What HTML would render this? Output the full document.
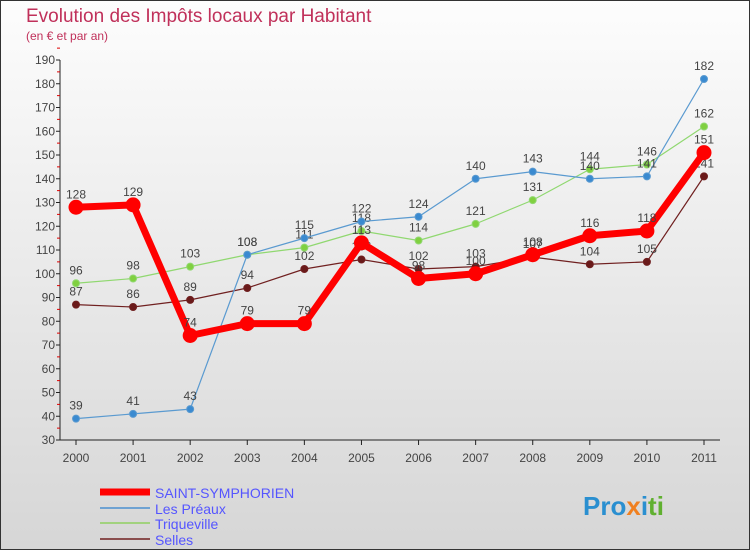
<!DOCTYPE html>
<html><head><meta charset="utf-8"><style>
body{margin:0;width:750px;height:550px;overflow:hidden;font-family:"Liberation Sans",sans-serif}
</style></head><body>
<svg width="750" height="550" xmlns="http://www.w3.org/2000/svg" id="svg">
<defs><linearGradient id="bg" x1="0" y1="0" x2="0" y2="1"><stop offset="0" stop-color="#fdfdfd"/><stop offset="1" stop-color="#d6d6d6"/></linearGradient></defs>
<rect x="0.5" y="0.5" width="749" height="549" fill="url(#bg)" stroke="#333"/>
<text x="26" y="22" font-size="19" fill="#c0305a">Evolution des Impôts locaux par Habitant</text>
<text x="26" y="40" font-size="12" fill="#c0305a">(en € et par an)</text>
<g id="axes"></g><g id="series"></g>
<g>
<line x1="100" y1="492" x2="150" y2="492" stroke="#f00" stroke-width="7"/><text x="155" y="498" font-size="14" fill="#55f">SAINT-SYMPHORIEN</text>
<line x1="100" y1="508" x2="150" y2="508" stroke="#4a90d0" stroke-width="1.5"/><text x="155" y="514" font-size="14" fill="#55f">Les Préaux</text>
<line x1="100" y1="523" x2="150" y2="523" stroke="#8fd060" stroke-width="1.5"/><text x="155" y="529" font-size="14" fill="#55f">Triqueville</text>
<line x1="100" y1="539" x2="150" y2="539" stroke="#702020" stroke-width="1.5"/><text x="155" y="545" font-size="14" fill="#55f">Selles</text>
</g>
<text x="583" y="515" font-size="26" font-weight="bold" fill="#2a8fd0">Pro<tspan fill="#f08020">x</tspan>i<tspan fill="#60b030">ti</tspan></text>
</svg>
<script>
const years=[2000,2001,2002,2003,2004,2005,2006,2007,2008,2009,2010,2011];
const saint=[128,129,74,79,79,113,98,100,108,116,118,151];
const preaux=[39,41,43,108,115,122,124,140,143,140,141,182];
const trique=[96,98,103,108,111,118,114,121,131,144,146,162];
const selles=[87,86,89,94,102,106,102,103,107,104,105,141];
const yTicks=[30,40,50,60,70,80,90,100,110,120,130,140,150,160,170,180,190];
const NS="http://www.w3.org/2000/svg";
const X=i=>76+i*(704-76)/(years.length-1);
const Y=v=>440-(v-30)*380/160;
function mk(t,a,p){const e=document.createElementNS(NS,t);for(const k in a)e.setAttribute(k,a[k]);p.appendChild(e);return e;}
const ax=document.getElementById('axes'),sg=document.getElementById('series');
mk('line',{x1:60,y1:60,x2:60,y2:440,stroke:'#222'},ax);
mk('line',{x1:60,y1:440,x2:720,y2:440,stroke:'#222'},ax);
yTicks.forEach(v=>{mk('line',{x1:56,y1:Y(v),x2:60,y2:Y(v),stroke:'#222'},ax);
 mk('line',{x1:57,y1:Y(v+5),x2:60,y2:Y(v+5),stroke:'#d00'},ax);
 const t=mk('text',{x:55,y:Y(v)+4,'font-size':12,fill:'#444','text-anchor':'end'},ax);t.textContent=v;
 });
years.forEach((y,i)=>{mk('line',{x1:X(i),y1:440,x2:X(i),y2:445,stroke:'#222'},ax);
 const t=mk('text',{x:X(i),y:462,'font-size':12,fill:'#444','text-anchor':'middle'},ax);t.textContent=y;
 });
function series(d,name,col,w,r,dot){const g=mk('g',{},sg);
 
 mk('polyline',{points:d.map((v,i)=>X(i)+','+Y(v)).join(' '),fill:'none',stroke:col,'stroke-width':w,'stroke-linejoin':'round'},g);
 d.forEach((v,i)=>{mk('circle',{cx:X(i),cy:Y(v),r:r,fill:dot,stroke:col},g);
  const t=mk('text',{x:X(i),y:Y(v)-9,'font-size':12,fill:'#444','text-anchor':'middle'},g);t.textContent=v;});}
series(selles,'series-selles','#702020',1.2,3.5,'#6a1a1a');
series(trique,'series-triqueville','#90d870',1.2,3.5,'#80d040');
series(preaux,'series-les-preaux','#5a9ad0',1.2,3.5,'#3a8ad0');
series(saint,'series-saint-symphorien','#f00',7,7,'#f00');
</script>
</body></html>
